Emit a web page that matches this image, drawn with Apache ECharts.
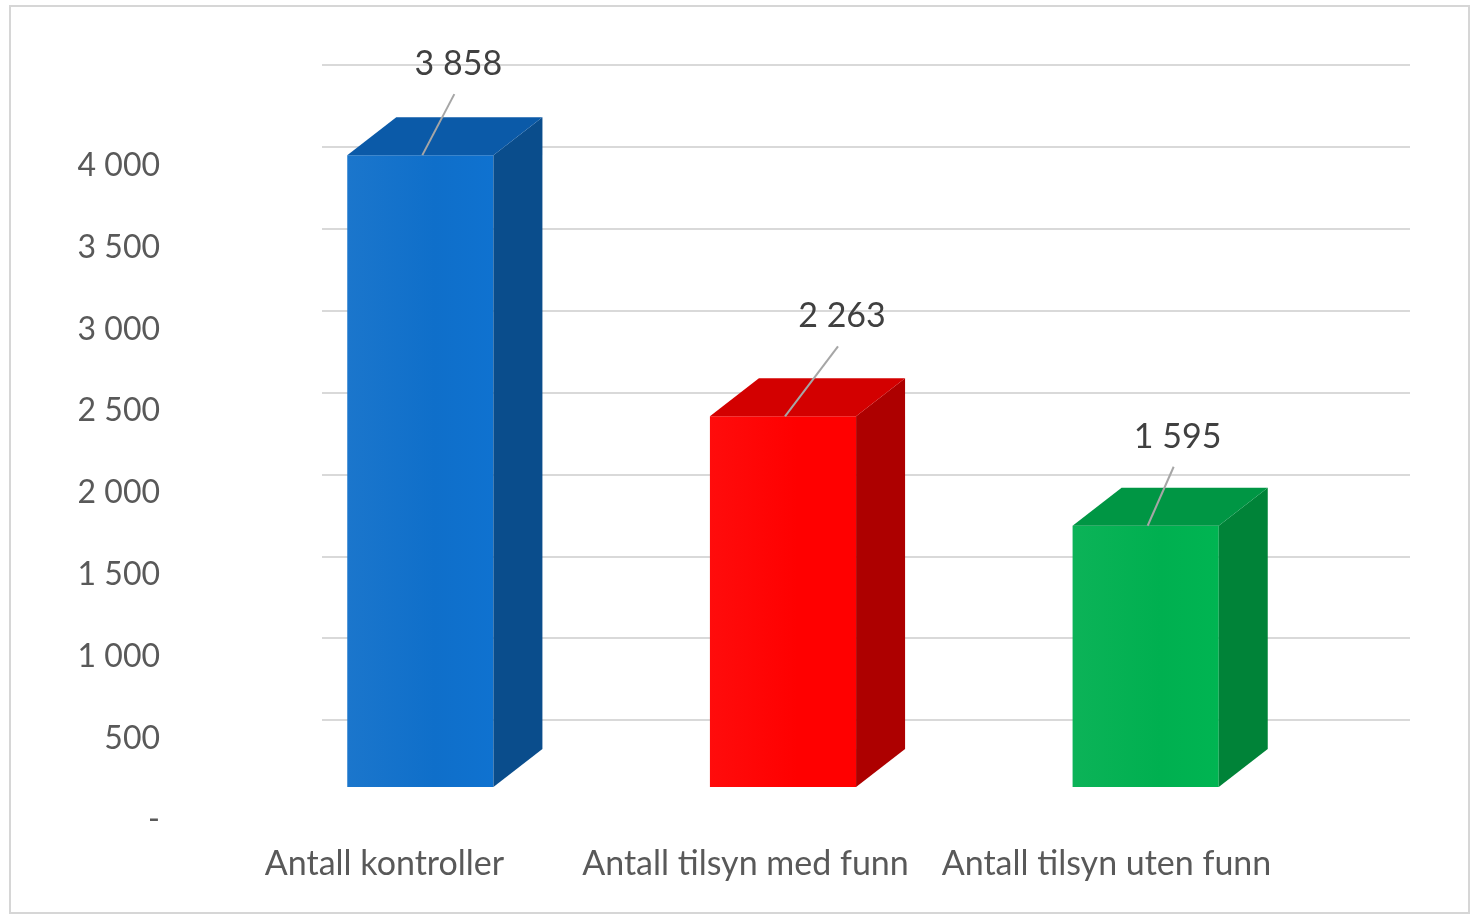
<!DOCTYPE html>
<html>
<head>
<meta charset="utf-8">
<script src="https://cdn.jsdelivr.net/npm/echarts@6/dist/echarts.min.js"></script>
<style>
  html, body { margin: 0; padding: 0; background: #fff; }
  #chart { width: 1470px; height: 915px; }
</style>
</head>
<body>
<div id="chart"></div>
<script>
// chart data
const categories = ['Antall kontroller', 'Antall tilsyn med funn', 'Antall tilsyn uten funn'];
const values = [3858, 2263, 1595];
const yMax = 4500;
const yStep = 500;

// bar colours: front, side, top
const faceColors = [
  ['#0f6fca', '#0a4d8c', '#0b5aa8'],
  ['#ff0000', '#ad0000', '#d30000'],
  ['#00b050', '#008338', '#009644']
];
// where each value label sits, relative to the top-front of its bar
const labelNudge = [[38, -91], [59, -100], [32, -89]];
const depth = [49, -38];

const fmt = v => v === 0 ? '-' : String(v).replace(/\B(?=(\d{3})+(?!\d))/g, ' ');
const font = 'Lato, "Open Sans", sans-serif';

const myChart = echarts.init(document.getElementById('chart'));

const renderBar = (params, api) => {
  const i = api.value(0);
  const v = api.value(1);
  const top = api.coord([i, v]);
  const base = api.coord([i, 0]);
  const band = api.size([1, 0])[0];
  const w = band * 0.403;
  const x0 = top[0] - w / 2;
  const x1 = top[0] + w / 2;
  const [dx, dy] = depth;
  const c = faceColors[i];
  const nudge = labelNudge[i];
  const lx = top[0] + nudge[0];
  const ly = top[1] + nudge[1];
  return {
    type: 'group',
    children: [
      {
        type: 'rect',
        shape: { x: x0, y: top[1], width: w, height: base[1] - top[1] },
        style: {
          fill: new echarts.graphic.LinearGradient(0, 0, 1, 0, [
            { offset: 0, color: echarts.color.lift(c[0], 0.05) },
            { offset: 0.6, color: c[0] },
            { offset: 1, color: echarts.color.lift(c[0], -0.03) }
          ])
        }
      },
      {
        type: 'polygon',
        shape: { points: [[x1, top[1]], [x1 + dx, top[1] + dy], [x1 + dx, base[1] + dy], [x1, base[1]]] },
        style: { fill: c[1] }
      },
      {
        type: 'polygon',
        shape: { points: [[x0, top[1]], [x0 + dx, top[1] + dy], [x1 + dx, top[1] + dy], [x1, top[1]]] },
        style: { fill: c[2] }
      },
      {
        type: 'line',
        shape: { x1: top[0] + 2, y1: top[1], x2: lx - 4, y2: ly + 30 },
        style: { stroke: '#a6a6a6', lineWidth: 2 }
      },
      {
        type: 'text',
        style: {
          x: lx, y: ly, text: fmt(v),
          font: '34px ' + font, fill: '#404040',
          align: 'center', verticalAlign: 'middle'
        }
      }
    ]
  };
};

const option = {
  animation: false,
  backgroundColor: '#fff',
  graphic: [
    {
      type: 'rect',
      shape: { x: 10, y: 6, width: 1459, height: 907 },
      style: { fill: 'none', stroke: '#d6d6d6', lineWidth: 2 },
      z: -10
    }
  ],
  grid: [
    // back wall with gridlines
    { left: 322, right: 60, top: 65, bottom: 113 },
    // axis labels
    { left: 204, right: 183, top: 84, bottom: 95 },
    // bar front faces
    { left: 239, right: 143, top: 50, bottom: 128 }
  ],
  xAxis: [
    { gridIndex: 0, type: 'category', data: categories, show: false },
    {
      gridIndex: 1, type: 'category', data: categories,
      axisLine: { show: false }, axisTick: { show: false },
      axisLabel: { interval: 0, margin: 27, fontFamily: font, fontSize: 34, color: '#595959' }
    },
    { gridIndex: 2, type: 'category', data: categories, show: false }
  ],
  yAxis: [
    {
      gridIndex: 0, type: 'value', min: 0, max: yMax, interval: yStep,
      axisLine: { show: false }, axisTick: { show: false }, axisLabel: { show: false },
      splitLine: { show: true, showMinLine: false, lineStyle: { color: '#d9d9d9', width: 2 } }
    },
    {
      gridIndex: 1, type: 'value', min: 0, max: yMax, interval: yStep,
      axisLine: { show: false }, axisTick: { show: false }, splitLine: { show: false },
      axisLabel: {
        margin: 44, fontFamily: font, fontSize: 32, color: '#595959',
        formatter: v => v >= yMax ? '' : fmt(v)
      }
    },
    {
      gridIndex: 2, type: 'value', min: 0, max: yMax, interval: yStep, show: false
    }
  ],
  series: [
    {
      type: 'custom',
      xAxisIndex: 2,
      yAxisIndex: 2,
      renderItem: renderBar,
      encode: { x: 0, y: 1 },
      data: values.map((v, i) => [i, v])
    }
  ]
};

option && myChart.setOption(option);
</script>
</body>
</html>
